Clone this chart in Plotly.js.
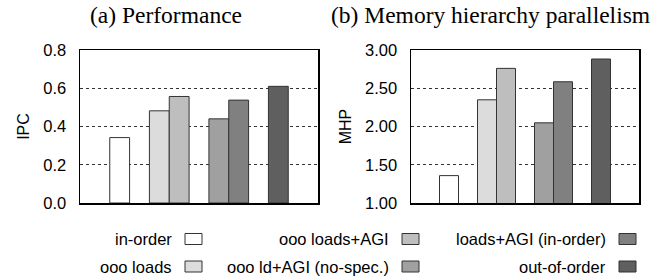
<!DOCTYPE html>
<html><head><meta charset="utf-8">
<script src="https://cdn.plot.ly/plotly-3.0.1.min.js"></script>
<style>html,body{margin:0;padding:0;background:#fff;}#chart{width:669px;height:279px;}</style>
</head><body><div id="chart"></div>
<script>
const categories = ['in-order','ooo loads','ooo loads+AGI','ooo ld+AGI (no-spec.)','loads+AGI (in-order)','out-of-order'];
const ipcValues = [0.342, 0.482, 0.557, 0.440, 0.538, 0.610];
const mhpValues = [1.358, 2.349, 2.760, 2.048, 2.585, 2.882];
const barColors = ['#ffffff','#dcdcdc','#bebebe','#a0a0a0','#808080','#5f5f5f'];
const ipcTicks = [0, 0.2, 0.4, 0.6, 0.8];
const mhpTicks = [1.0, 1.5, 2.0, 2.5, 3.0];
const panelTitles = ['(a) Performance', '(b) Memory hierarchy parallelism'];
const yTitles = ['IPC', 'MHP'];

// slot order with spacer slots between groups
const slots = ['s0', categories[0], 's1', categories[1], categories[2], 's2', categories[3], categories[4], 's3', categories[5], 's4'];

const W = 669, H = 279;
const traces = [];
categories.forEach((c, i) => {
  traces.push({type:'bar', x:[c], y:[ipcValues[i]], width:[1], xaxis:'x', yaxis:'y',
    marker:{color:barColors[i], line:{color:'#333', width:1}}, showlegend:false, hoverinfo:'skip'});
  traces.push({type:'bar', x:[c], y:[mhpValues[i]], width:[1], xaxis:'x2', yaxis:'y2',
    marker:{color:barColors[i], line:{color:'#333', width:1}}, showlegend:false, hoverinfo:'skip'});
});

const sans = 'Liberation Sans, Arial, sans-serif';
const tickFont = {family:sans, size:16.5, color:'#000'};
const xBase = {type:'category', categoryorder:'array', categoryarray:slots, range:[-1, 11],
  showticklabels:false, ticks:'', showgrid:false, zeroline:false,
  showline:true, mirror:true, linecolor:'#000', linewidth:1.5, fixedrange:true};
const yBase = {showline:true, mirror:true, linecolor:'#000', linewidth:1.5, ticks:'',
  showgrid:true, gridcolor:'#333', griddash:'dot', gridwidth:1, zeroline:false,
  tickfont:tickFont, ticklabelstandoff:9, fixedrange:true};

const yTop = 50, yBot = 203;
const layout = {
  width:W, height:H, margin:{l:0,r:0,t:0,b:0}, paper_bgcolor:'#fff', plot_bgcolor:'#fff',
  barmode:'overlay', bargap:0, showlegend:false,
  xaxis:Object.assign({}, xBase, {domain:[80/W, 318/W], anchor:'y'}),
  xaxis2:Object.assign({}, xBase, {domain:[411/W, 639/W], anchor:'y2'}),
  yaxis:Object.assign({}, yBase, {domain:[1-yBot/H, 1-yTop/H], range:[0, 0.8], tickvals:ipcTicks, tickformat:'.1f', anchor:'x',
    title:{text:yTitles[0], font:{family:sans, size:16, color:'#000'}, standoff:9}}),
  yaxis2:Object.assign({}, yBase, {domain:[1-yBot/H, 1-yTop/H], range:[1, 3], tickvals:mhpTicks, tickformat:'.2f', anchor:'x2',
    title:{text:yTitles[1], font:{family:sans, size:16, color:'#000'}, standoff:9}}),
  annotations:[], shapes:[]
};

// panel titles
const titleX = [166, 490];
panelTitles.forEach((t, i) => {
  layout.annotations.push({text:t, xref:'paper', yref:'paper', x:titleX[i]/W, y:1-15/H,
    xanchor:'center', yanchor:'middle', showarrow:false,
    font:{family:'Liberation Serif, Times New Roman, serif', size:23.5, color:'#000'}});
});

// custom legend: label right-aligned, swatch to the right; column-major order
const legTextRight = [174, 391, 608];
const legRowY = [239, 266.5];
categories.forEach((c, i) => {
  const col = Math.floor(i / 2), row = i % 2;
  const tx = legTextRight[col], cy = legRowY[row];
  layout.annotations.push({text:c, xref:'paper', yref:'paper', x:tx/W, y:1-cy/H,
    xanchor:'right', yanchor:'middle', showarrow:false,
    font:{family:sans, size:16.5, color:'#000'}});
  const sx = tx + 11;
  layout.shapes.push({type:'rect', xref:'paper', yref:'paper', x0:sx/W, x1:(sx+17)/W,
    y0:1-(cy+5.5)/H, y1:1-(cy-5.5)/H, fillcolor:barColors[i], line:{color:'#333', width:1}});
});

Plotly.newPlot('chart', traces, layout, {staticPlot:true, displayModeBar:false});
</script></body></html>
